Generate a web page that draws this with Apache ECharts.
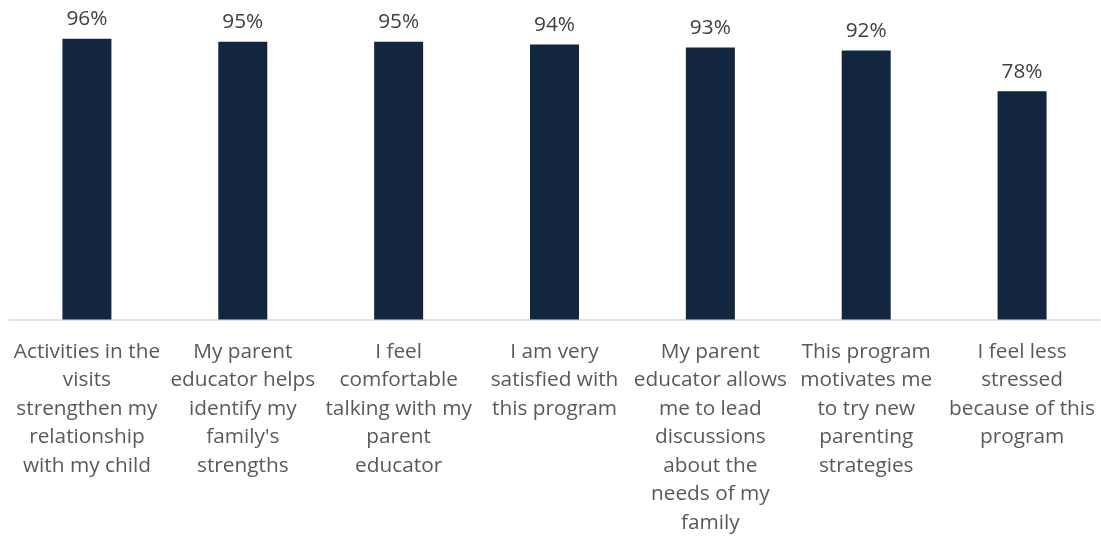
<!DOCTYPE html>
<html><head><meta charset="utf-8">
<script src="https://cdn.jsdelivr.net/npm/echarts@6/dist/echarts.min.js"></script>
<style>html,body{margin:0;padding:0;background:#fff}#c{width:1101px;height:539px}</style>
</head><body><div id="c"></div>
<script>
const categories = [
  "Activities in the\nvisits\nstrengthen my\nrelationship\nwith my child",
  "My parent\neducator helps\nidentify my\nfamily's\nstrengths",
  "I feel\ncomfortable\ntalking with my\nparent\neducator",
  "I am very\nsatisfied with\nthis program",
  "My parent\neducator allows\nme to lead\ndiscussions\nabout the\nneeds of my\nfamily",
  "This program\nmotivates me\nto try new\nparenting\nstrategies",
  "I feel less\nstressed\nbecause of this\nprogram"
];
const values = [96, 95, 95, 94, 93, 92, 78];

const chart = echarts.init(document.getElementById('c'), null, {renderer: 'canvas'});
chart.setOption({
  animation: false,
  grid: {left: 9, right: 1, top: 27, bottom: 219.5, containLabel: false},
  xAxis: {
    type: 'category',
    data: categories,
    axisLine: {lineStyle: {color: '#d9d9d9', width: 1.5}},
    axisTick: {show: false},
    axisLabel: {
      interval: 0,
      color: '#595959',
      fontFamily: 'Open Sans',
      fontSize: 20.8,
      lineHeight: 28.5,
      margin: 18,
      align: 'center'
    }
  },
  yAxis: {
    type: 'value', min: 0, max: 100,
    show: false,
    splitLine: {show: false}
  },
  series: [{
    type: 'bar',
    data: values,
    barWidth: 49,
    itemStyle: {color: '#12263f'},
    label: {
      show: true,
      position: 'top',
      distance: 9,
      formatter: p => p.value + '%',
      color: '#404040',
      fontFamily: 'Open Sans',
      fontSize: 20.8
    }
  }]
});
</script></body></html>
